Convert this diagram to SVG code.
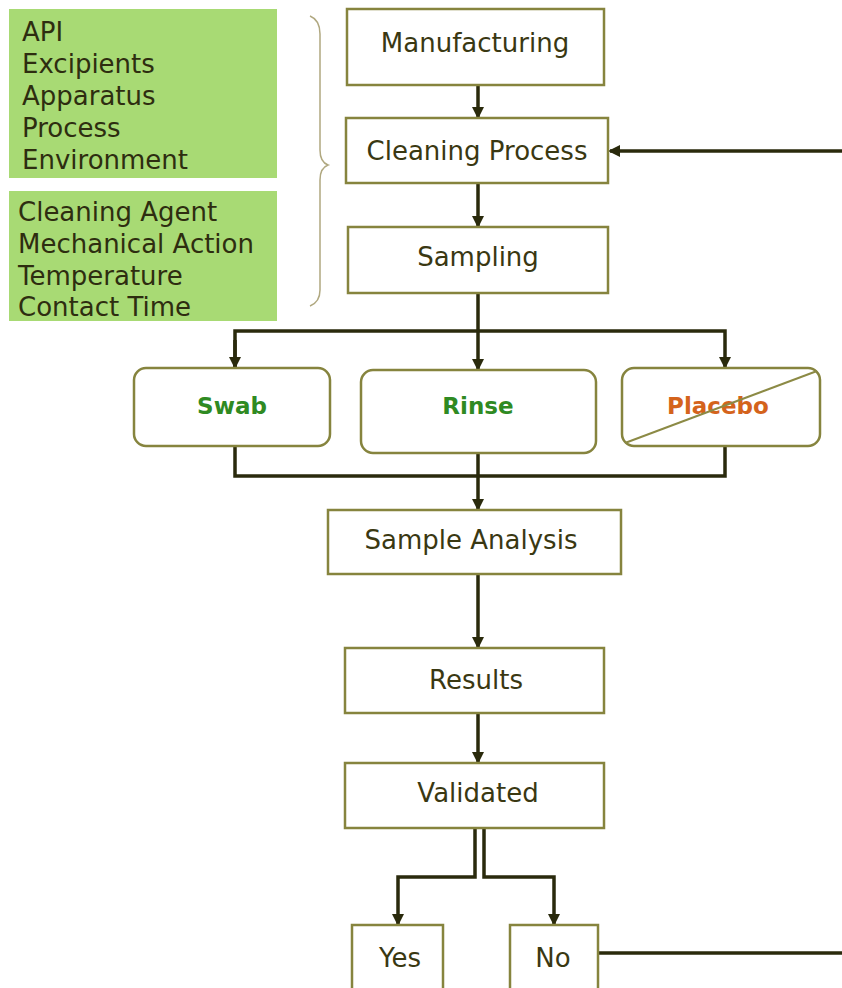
<svg xmlns="http://www.w3.org/2000/svg" width="842" height="988" viewBox="0 0 842 988">
<style>
.bx{fill:#fff;stroke:#86843e;stroke-width:2.5}
.gb{fill:#a8da74;stroke:none}
.t{font-family:"DejaVu Sans","Liberation Sans",sans-serif;font-size:26px;fill:#3a3812;text-anchor:middle}
.gt{font-family:"DejaVu Sans","Liberation Sans",sans-serif;font-size:26px;fill:#2e2d10}
.c{fill:none;stroke:#2a2a0c;stroke-width:3.5}
.sb{font-family:"DejaVu Sans","Liberation Sans",sans-serif;font-size:23px;font-weight:bold;text-anchor:middle}
</style>
<defs>
<marker id="ah" markerWidth="12" markerHeight="12" refX="10" refY="6" orient="auto" markerUnits="userSpaceOnUse" viewBox="0 0 12 12">
<path d="M0,0 L12,6 L0,12 z" fill="#2a2a0c"/>
</marker>
</defs>
<rect width="842" height="988" fill="#fff"/>
<g id="factors1">
<rect class="gb" x="9" y="9" width="268" height="169"/>
<text class="gt" x="22" y="41">API</text>
<text class="gt" x="22" y="73">Excipients</text>
<text class="gt" x="22" y="105">Apparatus</text>
<text class="gt" x="22" y="137">Process</text>
<text class="gt" x="22" y="169">Environment</text>
</g>
<g id="factors2">
<rect class="gb" x="9" y="191" width="268" height="130"/>
<text class="gt" x="18" y="221">Cleaning Agent</text>
<text class="gt" x="18" y="253">Mechanical Action</text>
<text class="gt" x="18" y="285">Temperature</text>
<text class="gt" x="18" y="316">Contact Time</text>
</g>
<g id="brace">
<path d="M310,16 Q320,20 320,34 L320,150 Q320,162 328,165 Q320,168 320,180 L320,290 Q320,302 310,306" fill="none" stroke="#b0a880" stroke-width="1.5"/>
</g>
<g id="connectors">
<line class="c" x1="478" y1="85" x2="478" y2="117" marker-end="url(#ah)"/>
<line class="c" x1="478" y1="183" x2="478" y2="226" marker-end="url(#ah)"/>
<line class="c" x1="478" y1="293" x2="478" y2="369" marker-end="url(#ah)"/>
<polyline class="c" points="235,367 235,331 725,331 725,367" marker-end="url(#ah)"/>
<line class="c" x1="235" y1="340" x2="235" y2="367" marker-end="url(#ah)"/>
<polyline class="c" points="235,446 235,476 725,476 725,446"/>
<line class="c" x1="478" y1="453" x2="478" y2="509" marker-end="url(#ah)"/>
<line class="c" x1="478" y1="574" x2="478" y2="647" marker-end="url(#ah)"/>
<line class="c" x1="478" y1="713" x2="478" y2="762" marker-end="url(#ah)"/>
<polyline class="c" points="475,828 475,877 398,877 398,924" marker-end="url(#ah)"/>
<polyline class="c" points="484,828 484,877 554,877 554,924" marker-end="url(#ah)"/>
<line class="c" x1="598" y1="953" x2="842" y2="953"/>
<line class="c" x1="842" y1="151" x2="610" y2="151" marker-end="url(#ah)"/>
</g>
<g id="manufacturing">
<rect class="bx" x="347" y="9" width="257" height="76"/>
<text class="t" x="475" y="52">Manufacturing</text>
</g>
<g id="cleaning">
<rect class="bx" x="346" y="118" width="262" height="65"/>
<text class="t" x="477" y="160">Cleaning Process</text>
</g>
<g id="sampling">
<rect class="bx" x="348" y="227" width="260" height="66"/>
<text class="t" x="478" y="266">Sampling</text>
</g>
<g id="swab">
<rect class="bx" x="134" y="368" width="196" height="78" rx="12"/>
<text class="sb" x="232" y="414" fill="#2f8a22">Swab</text>
</g>
<g id="rinse">
<rect class="bx" x="361" y="370" width="235" height="83" rx="12"/>
<text class="sb" x="478" y="414" fill="#2f8a22">Rinse</text>
</g>
<g id="placebo">
<rect class="bx" x="622" y="368" width="198" height="78" rx="12"/>
<text class="sb" x="718" y="414" fill="#d4631c">Placebo</text>
<line x1="625" y1="443" x2="817" y2="371" stroke="#8c8a45" stroke-width="2"/>
</g>
<g id="analysis">
<rect class="bx" x="328" y="510" width="293" height="64"/>
<text class="t" x="471" y="549">Sample Analysis</text>
</g>
<g id="results">
<rect class="bx" x="345" y="648" width="259" height="65"/>
<text class="t" x="476" y="689">Results</text>
</g>
<g id="validated">
<rect class="bx" x="345" y="763" width="259" height="65"/>
<text class="t" x="478" y="802">Validated</text>
</g>
<g id="yes">
<rect class="bx" x="352" y="925" width="91" height="70"/>
<text class="t" x="400" y="967">Yes</text>
</g>
<g id="no">
<rect class="bx" x="510" y="925" width="88" height="70"/>
<text class="t" x="553" y="967">No</text>
</g>
</svg>
